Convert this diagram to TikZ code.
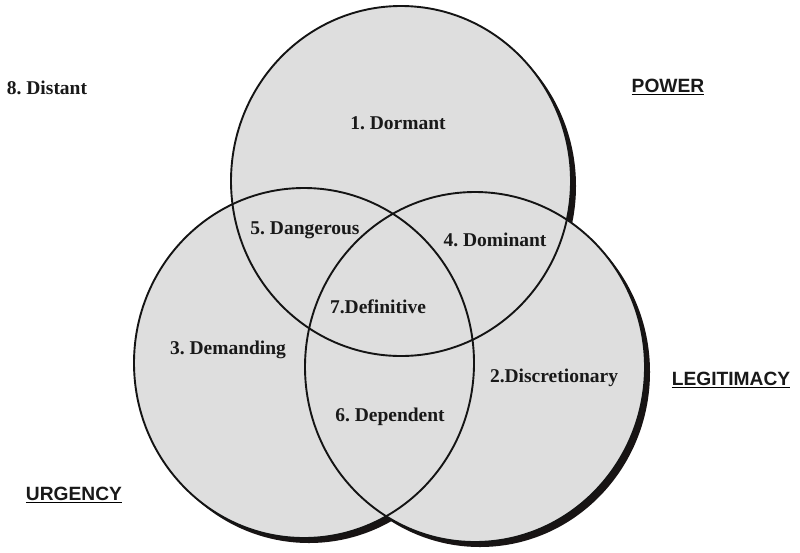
\documentclass[tikz,border=0pt]{standalone}
\usepackage{fontspec}
\setmainfont{Liberation Serif}
\newfontfamily\labfont{Liberation Sans}
\definecolor{venngray}{HTML}{DEDEDE}
\definecolor{shadowcol}{HTML}{181414}
\frenchspacing
\begin{document}
\begin{tikzpicture}[x=1pt,y=-1pt,
  region/.style={font=\fontsize{19.5}{22}\selectfont\bfseries, text=black!90, inner sep=0pt},
  setlabel/.style={font=\labfont\fontsize{19.2}{22}\selectfont\bfseries, text=black!90, inner sep=0pt, anchor=base},
  uline/.style={line width=1.8pt}]
\useasboundingbox[fill=white] (0,0) rectangle (800,552);
% shadows
\foreach \cx/\cy in {401/181, 304/363, 475/367}
  \fill[shadowcol] (\cx+5,\cy+5) ellipse [x radius=170, y radius=175];
% fills
\foreach \cx/\cy in {401/181, 304/363, 475/367}
  \fill[venngray] (\cx,\cy) ellipse [x radius=170, y radius=175];
% outlines
\foreach \cx/\cy in {401/181, 304/363, 475/367}
  \draw[line width=1.9pt, black!92] (\cx,\cy) ellipse [x radius=170, y radius=175];
% region labels
\node[region] (dormant) at (398,123) {1. Dormant};
\node[region] (dangerous) at (305,230) {5. Dangerous};
\node[region] (dominant) at (495,240) {4. Dominant};
\node[region] (definitive) at (378,307) {7.Definitive};
\node[region] (demanding) at (228,350) {3. Demanding};
\node[region] (discretionary) at (554,378) {2.Discretionary};
\node[region] (dependent) at (390,417) {6. Dependent};
\node[region] (distant) at (47,88) {8. Distant};
% set labels
\node[setlabel] (power) at (668,92) {POWER};
\node[setlabel] (legit) at (731,385) {LEGITIMACY};
\node[setlabel] (urgency) at (74,500) {URGENCY};
\draw[uline] ([yshift=-2.5pt]power.base west) -- ([yshift=-2.5pt]power.base east);
\draw[uline] ([yshift=-2.5pt]legit.base west) -- ([yshift=-2.5pt]legit.base east);
\draw[uline] ([yshift=-2.5pt]urgency.base west) -- ([yshift=-2.5pt]urgency.base east);
\end{tikzpicture}
\end{document}
